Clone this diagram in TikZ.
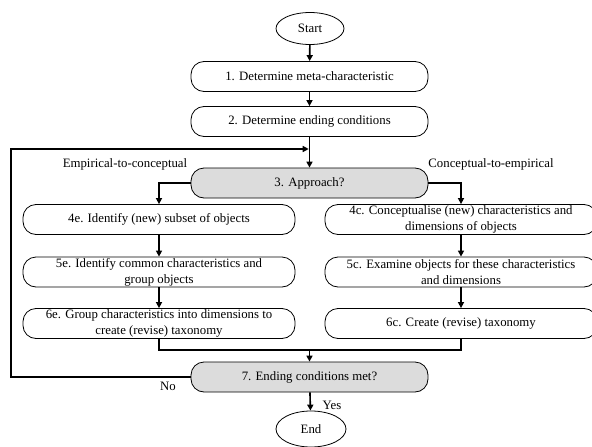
\documentclass[tikz,border=0pt]{standalone}
\usepackage{fontspec}
\setmainfont{Liberation Serif}
\usepackage{tikz}
\usetikzlibrary{arrows.meta,calc,positioning,shapes.geometric}
\definecolor{decgray}{HTML}{DCDCDC}

\begin{document}
\begin{tikzpicture}[x=1pt,y=-1pt,font=\fontsize{12.8}{16}\selectfont,
  stepbox/.style={draw,line width=0.8pt,rounded corners=13pt,minimum height=30pt,inner sep=1pt,align=center},
  decide/.style={stepbox,fill=decgray},
  mainw/.style={minimum width=237pt},
  sidew/.style={minimum width=272pt},
  term/.style={draw,ellipse,line width=0.8pt,inner sep=0pt},
  flow/.style={line width=1.6pt,-{Triangle[length=6pt,width=6pt]}},
  link/.style={line width=1.6pt}]
\useasboundingbox (0,0) rectangle (592,447);
% main column
\node[term,minimum width=68pt,minimum height=32pt] (start) at (310,28.5) {Start};
\node[stepbox,mainw] (s1) at (309.5,76.5) {1. Determine meta-characteristic};
\node[stepbox,mainw] (s2) at (309.5,121.5) {2. Determine ending conditions};
\node[decide,mainw] (s3) at (309.5,183) {3. Approach?};
% the two approaches
\node[stepbox,sidew] (e4) at (159,219.5) {4e. Identify (new) subset of objects};
\node[stepbox,sidew] (c4) at (461,219.5) {4c. Conceptualise (new) characteristics and\\dimensions of objects};
\node[stepbox,sidew] (e5) at (159,272) {5e. Identify common characteristics and\\group objects};
\node[stepbox,sidew] (c5) at (461,272) {5c. Examine objects for these characteristics\\and dimensions};
\node[stepbox,sidew] (e6) at (159,323.5) {6e. Group characteristics into dimensions to\\create (revise) taxonomy};
\node[stepbox,sidew] (c6) at (461,323.5) {6c. Create (revise) taxonomy};
\node[decide,mainw] (s7) at (309.5,377) {7. Ending conditions met?};
\node[term,minimum width=70pt,minimum height=36pt] (finish) at (311,429) {End};
% labels
\node (emp) at (125,164) {Empirical-to-conceptual};
\node (con) at (491,164) {Conceptual-to-empirical};
\node (no) at (168,386) {No};
\node (yes) at (332,405) {Yes};
% connectors
\coordinate (join) at (308.7,149);
\coordinate (loopL) at (11,149);
\coordinate (merge) at (309.5,350);
\draw[flow] (start) -- (s1);
\draw[flow] (s1) -- (s2);
\draw[flow] (s2) -- (s3);
\draw[flow] (s7.west) -| (loopL) -- (join);
\draw[flow] (s3.west) -| (e4.north);
\draw[flow] (s3.east) -| (c4.north);
\draw[flow] (e4) -- (e5);
\draw[flow] (e5) -- (e6);
\draw[flow] (c4) -- (c5);
\draw[flow] (c5) -- (c6);
\draw[link] (e6.south) |- (merge) -| (c6.south);
\draw[flow] (merge) -- (s7.north);
\draw[flow] (s7) -- (finish);
\end{tikzpicture}
\end{document}
